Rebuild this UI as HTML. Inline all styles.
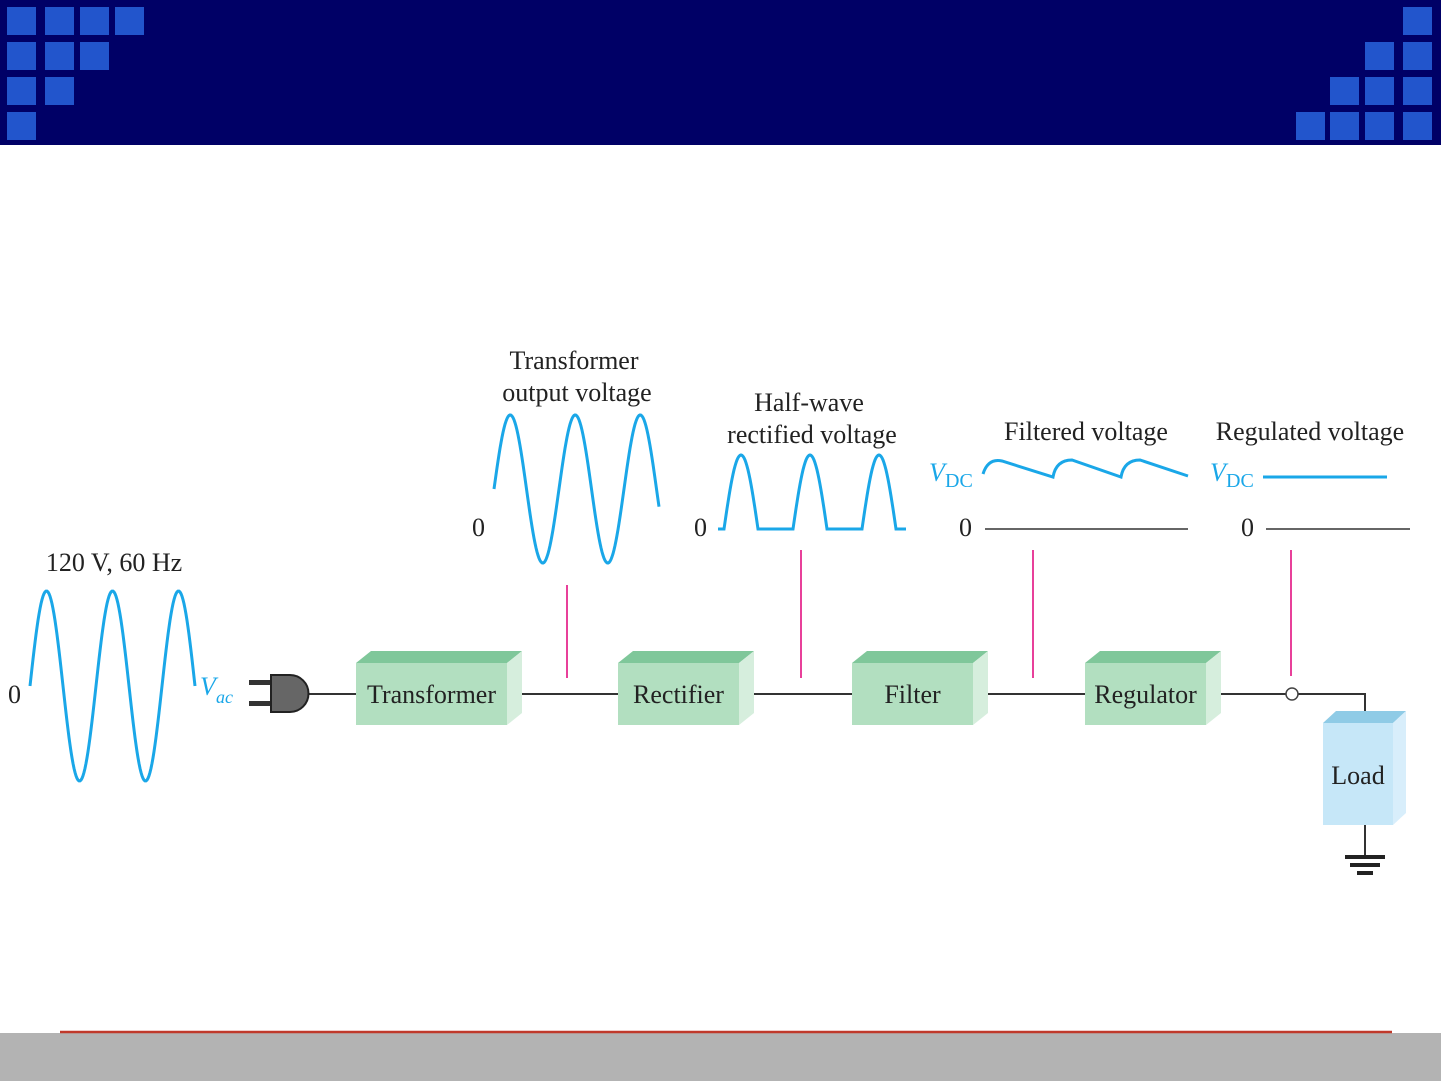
<!DOCTYPE html>
<html><head><meta charset="utf-8"><style>
html,body{margin:0;padding:0;background:#fff}
svg{display:block}
text{font-family:"Liberation Serif",serif;fill:#222}
</style></head><body>
<svg id="s" width="1441" height="1081" viewBox="0 0 1441 1081" xmlns="http://www.w3.org/2000/svg">
<rect x="0" y="0" width="1441" height="145" fill="#000066"/>
<g fill="#2255cc">
<rect x="7" y="7" width="29" height="28"/><rect x="45" y="7" width="29" height="28"/><rect x="80" y="7" width="29" height="28"/><rect x="115" y="7" width="29" height="28"/>
<rect x="7" y="42" width="29" height="28"/><rect x="45" y="42" width="29" height="28"/><rect x="80" y="42" width="29" height="28"/>
<rect x="7" y="77" width="29" height="28"/><rect x="45" y="77" width="29" height="28"/>
<rect x="7" y="112" width="29" height="28"/>
<rect x="1403" y="7" width="29" height="28"/>
<rect x="1365" y="42" width="29" height="28"/><rect x="1403" y="42" width="29" height="28"/>
<rect x="1330" y="77" width="29" height="28"/><rect x="1365" y="77" width="29" height="28"/><rect x="1403" y="77" width="29" height="28"/>
<rect x="1296" y="112" width="29" height="28"/><rect x="1330" y="112" width="29" height="28"/><rect x="1365" y="112" width="29" height="28"/><rect x="1403" y="112" width="29" height="28"/>
</g>
<rect x="0" y="1033" width="1441" height="48" fill="#b3b3b3"/>
<line x1="60" y1="1032" x2="1392" y2="1032" stroke="#c0392b" stroke-width="2.5"/>

<g stroke="#333" stroke-width="2" fill="none">
<line x1="305" y1="694" x2="356" y2="694"/>
<line x1="514" y1="694" x2="618" y2="694"/>
<line x1="749" y1="694" x2="852" y2="694"/>
<line x1="981" y1="694" x2="1085" y2="694"/>
<polyline points="1213,694 1365,694 1365,716"/>
<line x1="1365" y1="825" x2="1365" y2="855"/>
<line x1="985" y1="529" x2="1188" y2="529" stroke-width="1.5"/>
<line x1="1266" y1="529" x2="1410" y2="529" stroke-width="1.5"/>
</g>
<g fill="#222"><rect x="1345" y="855" width="40" height="4"/><rect x="1350" y="863" width="30" height="4"/><rect x="1357" y="871" width="16" height="4"/></g>
<circle cx="1292" cy="694" r="6" fill="#fff" stroke="#444" stroke-width="1.5"/>

<g stroke="#e8409a" stroke-width="2">
<line x1="567" y1="585" x2="567" y2="678"/><line x1="801" y1="550" x2="801" y2="678"/>
<line x1="1033" y1="550" x2="1033" y2="678"/><line x1="1291" y1="550" x2="1291" y2="676"/>
</g>

<rect x="249" y="680" width="24" height="5" fill="#333"/><rect x="249" y="701" width="24" height="5" fill="#333"/>
<path d="M271 675 H290 A18 18 0 0 1 290 712 H271 Z" fill="#666" stroke="#222" stroke-width="2"/>

<g id="boxes"></g>

<polygon points="1323,723 1336,711 1406,711 1393,723" fill="#8fcbe6"/>
<polygon points="1393,723 1406,711 1406,813 1393,825" fill="#d8eefb"/>
<rect x="1323" y="723" width="70" height="102" fill="#c6e7f8"/>
<text x="1358" y="784" font-size="26" text-anchor="middle">Load</text>

<g id="waves" fill="none" stroke="#1aa7e8" stroke-width="3"></g>

<g font-size="26">
<text x="114" y="571" text-anchor="middle">120 V, 60 Hz</text>
<text x="8" y="703">0</text>
<text x="472" y="536">0</text>
<text x="694" y="536">0</text>
<text x="959" y="536">0</text>
<text x="1241" y="536">0</text>
<text x="574" y="369" text-anchor="middle">Transformer</text>
<text x="577" y="401" text-anchor="middle">output voltage</text>
<text x="809" y="411" text-anchor="middle">Half-wave</text>
<text x="812" y="443" text-anchor="middle">rectified voltage</text>
<text x="1086" y="440" text-anchor="middle">Filtered voltage</text>
<text x="1310" y="440" text-anchor="middle">Regulated voltage</text>
</g>
<g font-size="26">
<text x="200" y="695" font-style="italic" style="fill:#1aa7e8">V</text><text x="216" y="703" font-size="18" font-style="italic" style="fill:#1aa7e8">ac</text>
<text x="929" y="481" font-style="italic" style="fill:#1aa7e8">V</text><text x="945" y="487" font-size="20" style="fill:#1aa7e8">DC</text>
<text x="1210" y="481" font-style="italic" style="fill:#1aa7e8">V</text><text x="1226" y="487" font-size="20" style="fill:#1aa7e8">DC</text>
</g>
</svg>
<script>
var NS="http://www.w3.org/2000/svg";
function el(p,t,a){var e=document.createElementNS(NS,t);for(var k in a)e.setAttribute(k,a[k]);p.appendChild(e);return e;}
var B=document.getElementById("boxes");
[[356,507,"Transformer"],[618,739,"Rectifier"],[852,973,"Filter"],[1085,1206,"Regulator"]].forEach(function(b){
 var x1=b[0],x2=b[1],y1=663,y2=725,d=15,h=12;
 el(B,"polygon",{points:x1+","+y1+" "+(x1+d)+","+(y1-h)+" "+(x2+d)+","+(y1-h)+" "+x2+","+y1,fill:"#7fc79a"});
 el(B,"polygon",{points:x2+","+y1+" "+(x2+d)+","+(y1-h)+" "+(x2+d)+","+(y2-h)+" "+x2+","+y2,fill:"#d6eedd"});
 el(B,"rect",{x:x1,y:y1,width:x2-x1,height:y2-y1,fill:"#b2dfc0"});
 var t=el(B,"text",{x:(x1+x2)/2,y:703,"font-size":26,"text-anchor":"middle"});t.textContent=b[2];
});
var W=document.getElementById("waves");
function sine(x0,x1,cy,amp,per){var p=[];for(var x=x0;x<=x1;x+=1){p.push(x+","+(cy-amp*Math.sin(2*Math.PI*(x-x0)/per)).toFixed(1));}el(W,"polyline",{points:p.join(" ")});}
sine(30,195,686,95,66);
sine(494,659,489,74,65);
var p=["718,529","724,529"];var starts=[724,793,862];
starts.forEach(function(s,i){for(var x=s;x<=s+34;x++){p.push(x+","+(529-74*Math.sin(Math.PI*(x-s)/34)).toFixed(1));}
 if(i<2)p.push(starts[i+1]+",529");});
p.push("906,529");el(W,"polyline",{points:p.join(" ")});
el(W,"path",{d:"M983 474 Q988 458 1002 461 L1053 477 Q1056 460 1072 460 L1121 477 Q1124 460 1140 460 L1188 476"});
el(W,"line",{x1:1263,y1:477,x2:1387,y2:477});
</script>
</body></html>
